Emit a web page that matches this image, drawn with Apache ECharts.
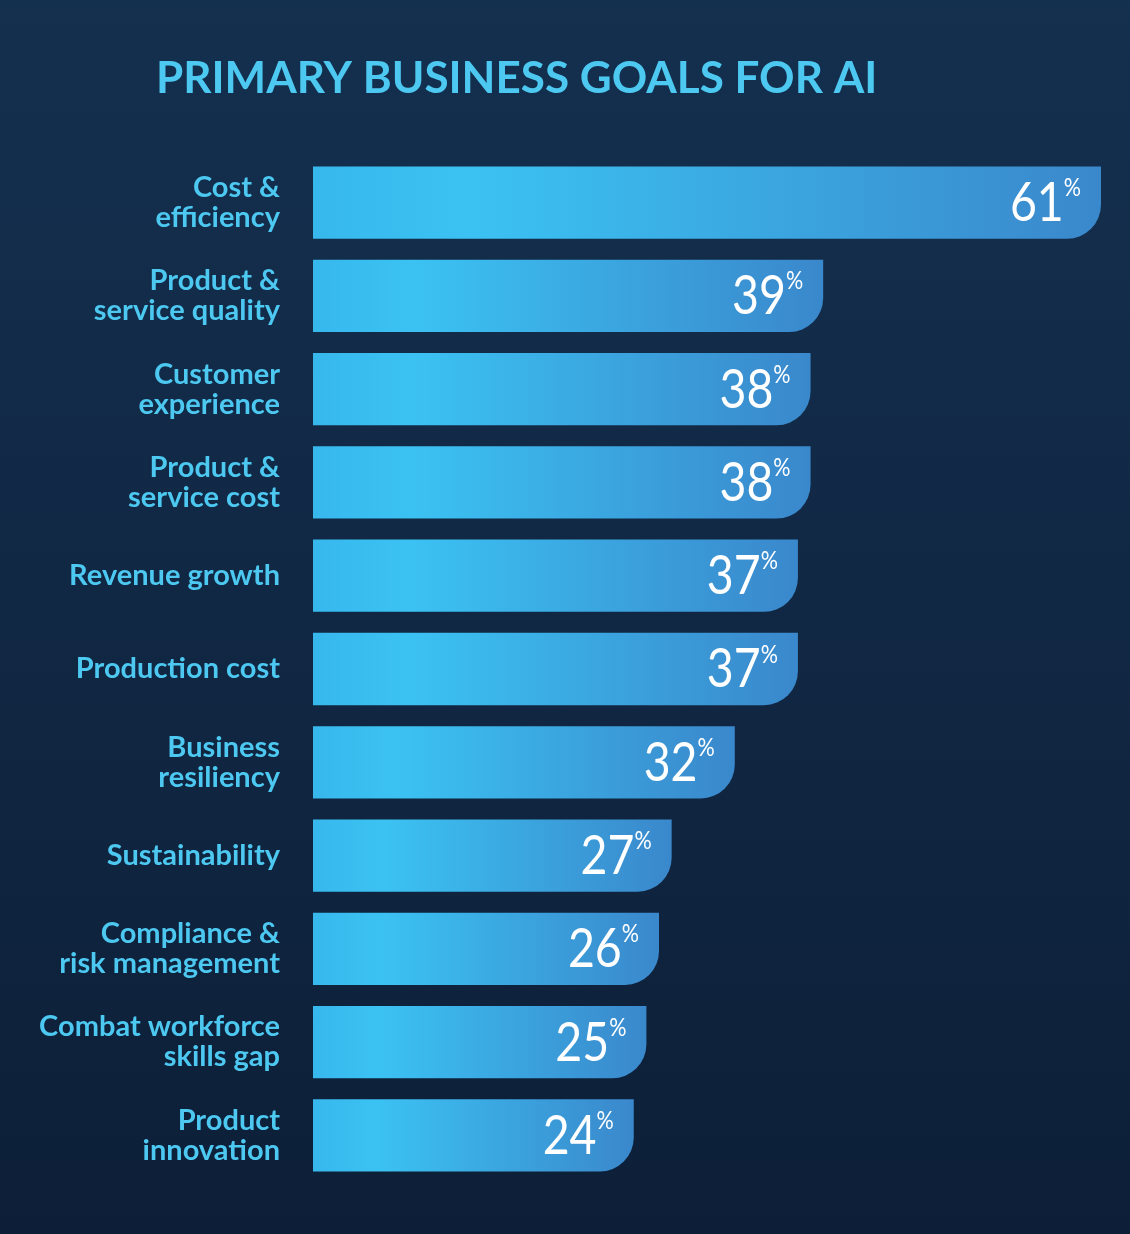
<!DOCTYPE html>
<html>
<head>
<meta charset="utf-8" />
<title>Primary business goals for AI</title>
<script src="https://cdn.jsdelivr.net/npm/echarts@6/dist/echarts.min.js"></script>
<style>
  html, body { margin: 0; padding: 0; background: #11284a; }
  #main { width: 1130px; height: 1234px; }
</style>
</head>
<body>
<div id="main"></div>
<script>
// data, top to bottom
var goals = [
  'Cost &\nefficiency',
  'Product &\nservice quality',
  'Customer\nexperience',
  'Product &\nservice cost',
  'Revenue growth',
  'Production cost',
  'Business\nresiliency',
  'Sustainability',
  'Compliance &\nrisk management',
  'Combat workforce\nskills gap',
  'Product\ninnovation'
];
var shares = [61, 39, 38, 38, 37, 37, 32, 27, 26, 25, 24];

// bars start a little left of zero in the original artwork
var axisMin = -1.4;
var axisMax = 61;

var chart = echarts.init(document.getElementById('main'));

var barFill = function () {
  return new echarts.graphic.LinearGradient(0, 0, 1, 0, [
    { offset: 0, color: '#37b8ed' },
    { offset: 0.2, color: '#3bc2f2' },
    { offset: 1, color: '#3a88cc' }
  ]);
};

var option = {
  backgroundColor: new echarts.graphic.LinearGradient(0, 0, 0, 1, [
    { offset: 0, color: '#14304f' },
    { offset: 1, color: '#0d1f38' }
  ]),
  title: {
    text: 'PRIMARY BUSINESS GOALS FOR AI',
    left: 151,
    top: 52,
    textStyle: {
      color: '#4cc8f1',
      fontFamily: 'Lato',
      fontWeight: 'bold',
      fontSize: 44
    }
  },
  grid: { left: 313, right: 29, top: 156, bottom: 52 },
  xAxis: {
    type: 'value',
    min: axisMin,
    max: axisMax,
    show: false
  },
  yAxis: {
    type: 'category',
    data: goals,
    inverse: true,
    axisLine: { show: false },
    axisTick: { show: false },
    splitLine: { show: false },
    axisLabel: {
      margin: 33,
      color: '#4cc8f1',
      fontFamily: 'Lato',
      fontWeight: 'bold',
      fontSize: 29,
      lineHeight: 30,
      align: 'right'
    }
  },
  series: [{
    type: 'custom',
    encode: { x: 0, y: 1 },
    data: shares.map(function (v, i) { return [v, i]; }),
    renderItem: function (params, api) {
      var v = api.value(0);
      var idx = api.value(1);
      var start = api.coord([axisMin, idx]);
      var end = api.coord([v, idx]);
      var h = api.size([0, 1])[1] * 0.775;
      return {
        type: 'group',
        children: [{
          type: 'rect',
          shape: { x: start[0], y: start[1] - h / 2, width: end[0] - start[0], height: h, r: [0, 0, 34, 0] },
          style: { fill: barFill() }
        }, {
          type: 'text',
          x: end[0] - 20,
          y: start[1] + 1,
          scaleX: 0.86,
          style: {
            text: '{n|' + v + '}{p|%}',
            align: 'right',
            verticalAlign: 'middle',
            fill: '#ffffff',
            rich: {
              n: { fontFamily: 'Lato', fontSize: 54, fill: '#ffffff', lineHeight: 56 },
              p: { fontFamily: 'Lato', fontSize: 25, fill: '#ffffff', verticalAlign: 'top', lineHeight: 56 }
            }
          }
        }]
      };
    }
  }]
};

chart.setOption(option);
</script>
</body>
</html>
